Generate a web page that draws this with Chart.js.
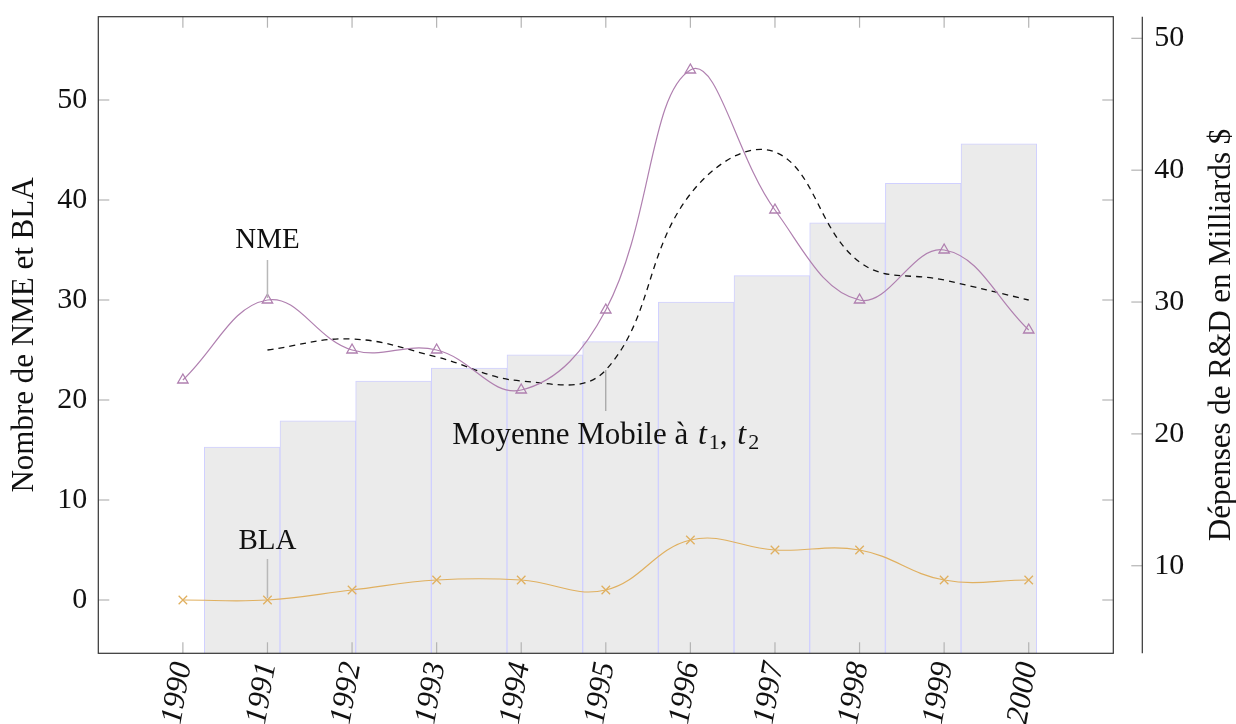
<!DOCTYPE html>
<html>
<head>
<meta charset="utf-8">
<script src="https://cdn.jsdelivr.net/npm/chart.js@4.4.0/dist/chart.umd.min.js"></script>
<style>
  html, body { margin: 0; padding: 0; background: #fff; }
  #wrap { width: 1236px; height: 724px; }
</style>
</head>
<body>
<div id="wrap"><canvas id="chart" width="1236" height="724"></canvas></div>
<script>
// values
const years = [1990, 1991, 1992, 1993, 1994, 1995, 1996, 1997, 1998, 1999, 2000];
const nme = [22, 30, 25, 25, 21, 29, 53, 39, 30, 35, 27];
const bla = [0, 0, 1, 2, 2, 1, 6, 5, 5, 2, 2];
const movingAvg = [null, 25, 26.1, 24.3, 21.9, 23, 40.6, 44.8, 33.8, 32, 30];
const rdSpending = [19, 21, 24, 25, 26, 27, 30, 32, 36, 39, 42];
const barSlots = [0, 1, 2, 3, 4, 5, 6, 7, 8, 9, 10];
const leftTicks = [0, 10, 20, 30, 40, 50];
const rightTicks = [10, 20, 30, 40, 50];

const SERIF = "'Liberation Serif', 'DejaVu Serif', serif";
const purple = "#b080b0";
const orange = "#e0b060";

function line(ctx, x1, y1, x2, y2) {
  ctx.beginPath();
  ctx.moveTo(x1, y1);
  ctx.lineTo(x2, y2);
  ctx.stroke();
}

// fix the box sizes so the plot area sits where it does in the reference
function pin(size) {
  return s => {
    if (s.isHorizontal()) s.height = size; else s.width = size;
    s.paddingTop = 0; s.paddingBottom = 0; s.paddingLeft = 0; s.paddingRight = 0;
  };
}

const decorations = {
  id: "decorations",
  afterDatasetsDraw(chart) {
    const { ctx, chartArea: a, scales } = chart;
    ctx.save();

    // inward tick marks, pgfplots style
    ctx.strokeStyle = "#b4b4b4";
    ctx.lineWidth = 1.2;
    years.forEach(v => {
      const px = scales.x.getPixelForValue(v);
      line(ctx, px, a.bottom, px, a.bottom - 11);
      line(ctx, px, a.top, px, a.top + 11);
    });
    leftTicks.forEach(v => {
      const py = scales.y.getPixelForValue(v);
      line(ctx, a.left, py, a.left + 11, py);
      line(ctx, a.right, py, a.right - 11, py);
    });
    const axX = a.right + 29;
    rightTicks.forEach(v => {
      const py = scales.y2.getPixelForValue(v);
      line(ctx, axX - 11, py, axX, py);
    });

    // frame and detached right axis
    ctx.strokeStyle = "#333";
    ctx.lineWidth = 1.2;
    ctx.strokeRect(a.left, a.top, a.right - a.left, a.bottom - a.top);
    line(ctx, axX, a.top, axX, a.bottom);

    // right axis title, reading upwards
    ctx.fillStyle = "#111";
    ctx.save();
    ctx.translate(1230, (a.top + a.bottom) / 2);
    ctx.rotate(-Math.PI / 2);
    ctx.font = "31px " + SERIF;
    ctx.textAlign = "center";
    ctx.textBaseline = "alphabetic";
    ctx.fillText("Dépenses de R&D en Milliards $", 0, 0);
    ctx.restore();

    // pins with labels
    ctx.font = "29px " + SERIF;
    ctx.textAlign = "center";
    ctx.textBaseline = "alphabetic";
    ctx.strokeStyle = "#b8b8b8";
    ctx.lineWidth = 1.5;
    const nx = scales.x.getPixelForValue(years[1]);
    const ny = scales.y.getPixelForValue(nme[1]);
    line(ctx, nx, ny - 2, nx, ny - 40);
    ctx.fillText("NME", nx, ny - 52);
    const by = scales.y.getPixelForValue(bla[1]);
    line(ctx, nx, by - 2, nx, by - 41);
    ctx.fillText("BLA", nx, by - 51);

    const mx = scales.x.getPixelForValue(years[5]);
    const my = scales.y.getPixelForValue(movingAvg[5]);
    ctx.strokeStyle = "#909090";
    ctx.lineWidth = 1;
    line(ctx, mx, my, mx, my + 41);
    const parts = [
      { t: "Moyenne Mobile à ", f: "31px " + SERIF, dy: 0, gap: 2 },
      { t: "t", f: "italic 32px " + SERIF, dy: 0, gap: 2 },
      { t: "1", f: "22px " + SERIF, dy: 5, gap: 0 },
      { t: ", ", f: "31px " + SERIF, dy: 0, gap: 2 },
      { t: "t", f: "italic 32px " + SERIF, dy: 0, gap: 2 },
      { t: "2", f: "22px " + SERIF, dy: 5, gap: 0 }
    ];
    let total = 0;
    parts.forEach(p => { ctx.font = p.f; p.w = ctx.measureText(p.t).width + p.gap; total += p.w; });
    let tx = mx - total / 2;
    ctx.textAlign = "left";
    parts.forEach(p => {
      ctx.font = p.f;
      ctx.fillText(p.t, tx, my + 74 + p.dy);
      tx += p.w;
    });

    ctx.restore();
  }
};

new Chart(document.getElementById("chart"), {
  type: "line",
  data: {
    datasets: [
      {
        label: "NME",
        data: years.map((y, i) => ({ x: y, y: nme[i] })),
        borderColor: purple,
        backgroundColor: "rgba(0,0,0,0)",
        borderWidth: 1.2,
        tension: 0.4,
        pointStyle: "triangle",
        pointRadius: 6,
        pointBorderColor: purple,
        pointBorderWidth: 1.3,
        order: 1
      },
      {
        label: "BLA",
        data: years.map((y, i) => ({ x: y, y: bla[i] })),
        borderColor: orange,
        backgroundColor: "rgba(0,0,0,0)",
        borderWidth: 1.2,
        tension: 0.4,
        pointStyle: "crossRot",
        pointRadius: 6,
        pointBorderColor: orange,
        pointBorderWidth: 1.3,
        order: 1
      },
      {
        label: "Moyenne Mobile",
        data: years.map((y, i) => ({ x: y, y: movingAvg[i] })),
        borderColor: "#111",
        borderWidth: 1.3,
        borderDash: [6, 5],
        tension: 0.4,
        pointRadius: 0,
        spanGaps: false,
        order: 2
      },
      {
        type: "bar",
        label: "Dépenses R&D",
        data: barSlots.map((s, i) => ({ x: s, y: rdSpending[i] })),
        xAxisID: "x2",
        yAxisID: "y2",
        backgroundColor: "#ebebeb",
        borderColor: "#d0d0ff",
        borderWidth: 1,
        barPercentage: 1,
        categoryPercentage: 1,
        grouped: false,
        order: 10
      }
    ]
  },
  options: {
    responsive: false,
    devicePixelRatio: 1,
    animation: false,
    layout: { padding: { top: 16.7, left: 0, right: 0, bottom: 0 } },
    plugins: { legend: { display: false }, tooltip: { enabled: false } },
    scales: {
      x: {
        type: "linear",
        position: "bottom",
        min: 1989,
        max: 2001,
        grid: { display: false, drawTicks: false },
        border: { display: false },
        afterBuildTicks: s => { s.ticks = years.map(v => ({ value: v })); },
        afterFit: pin(724 - 653.3),
        ticks: {
          minRotation: 80,
          maxRotation: 80,
          padding: 6,
          color: "#111",
          font: { family: SERIF, size: 31, style: "italic" },
          callback: v => String(v)
        }
      },
      x2: {
        type: "linear",
        position: "bottom",
        display: false,
        offset: false,
        min: -1.901,
        max: 11.512,
        afterBuildTicks: s => { s.ticks = barSlots.map(v => ({ value: v })); }
      },
      y: {
        position: "left",
        min: -5.33,
        max: 58.33,
        grid: { display: false, drawTicks: false },
        border: { display: false },
        afterBuildTicks: s => { s.ticks = leftTicks.map(v => ({ value: v })); },
        afterFit: pin(98.3),
        ticks: { padding: 11, color: "#111", font: { family: SERIF, size: 30 } },
        title: {
          display: true,
          text: "Nombre de NME et BLA",
          color: "#111",
          font: { family: SERIF, size: 31 },
          padding: { top: 6, bottom: 0 }
        }
      },
      y2: {
        position: "right",
        min: 3.36,
        max: 51.64,
        grid: { display: false, drawTicks: false },
        border: { display: false },
        afterBuildTicks: s => { s.ticks = rightTicks.map(v => ({ value: v })); },
        afterFit: pin(1236 - 1113.3),
        ticks: { padding: 41, color: "#111", font: { family: SERIF, size: 30 } }
      }
    }
  },
  plugins: [decorations]
});
</script>
</body>
</html>
